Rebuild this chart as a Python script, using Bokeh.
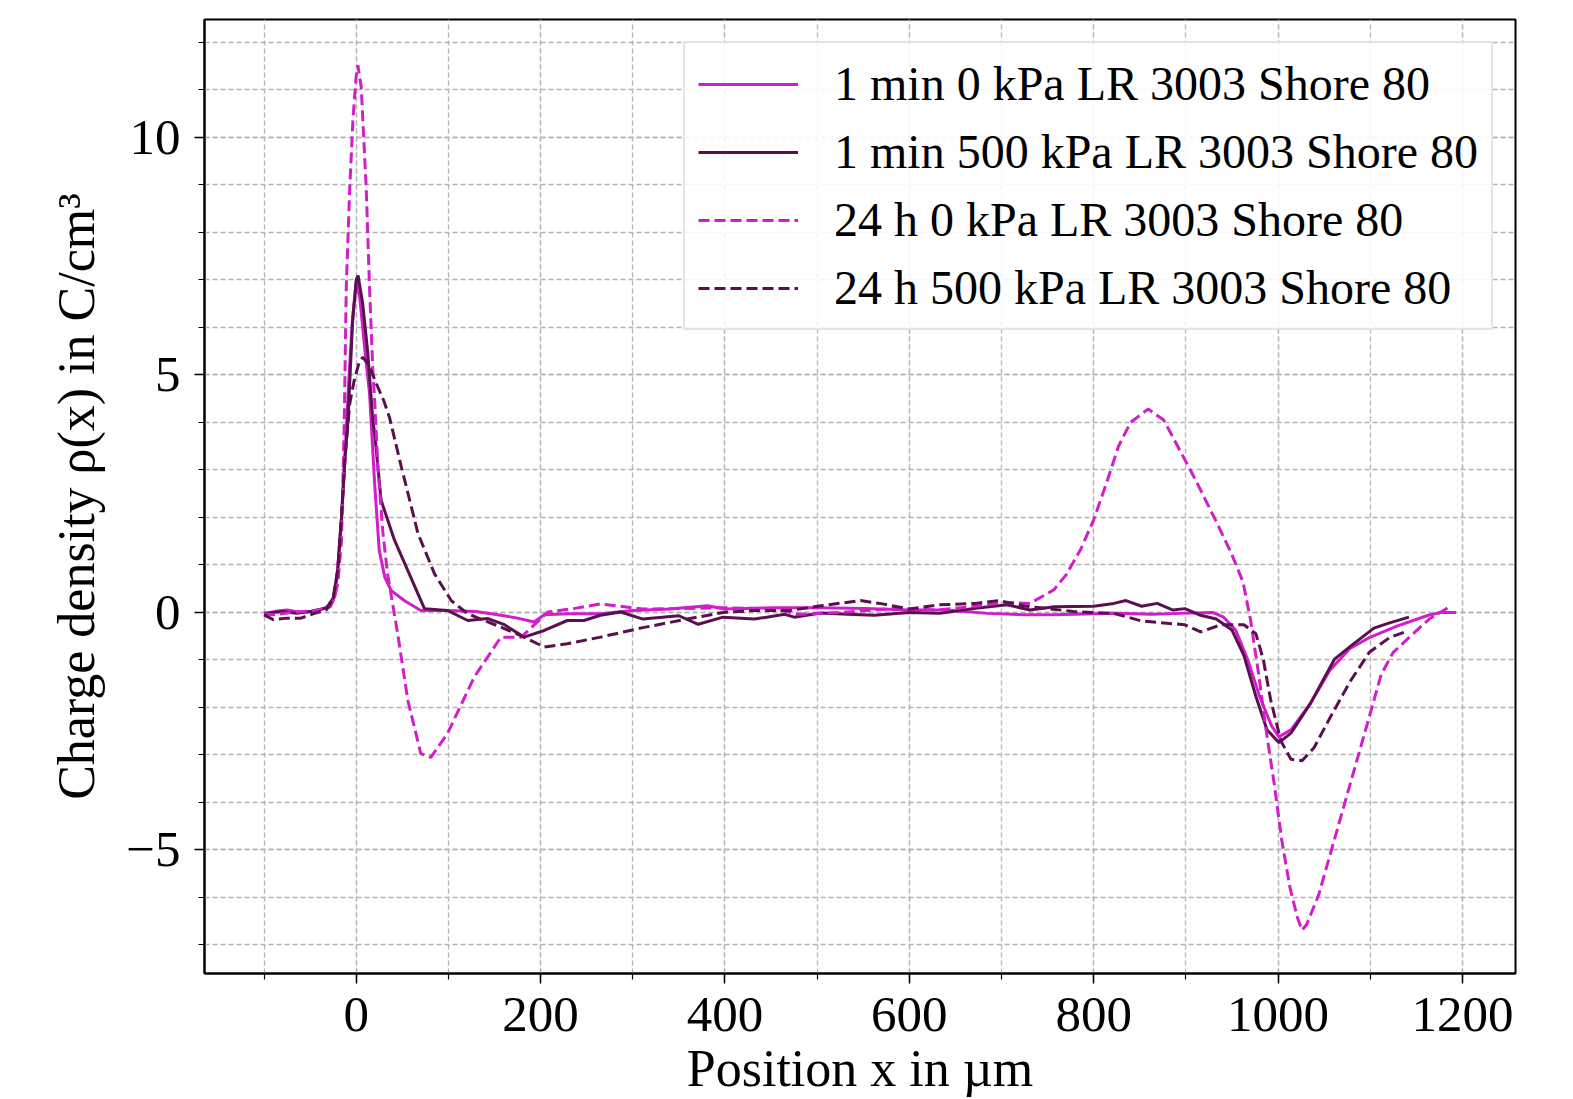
from bokeh.plotting import figure
from bokeh.models import Range1d, FixedTicker
from bokeh.embed import file_html
from bokeh.resources import INLINE

# ---- data ----
labels = ["1 min 0 kPa LR 3003 Shore 80", "1 min 500 kPa LR 3003 Shore 80",
          "24 h 0 kPa LR 3003 Shore 80", "24 h 500 kPa LR 3003 Shore 80"]

x_1min_0 = [-100, -85, -75, -60, -45, -35, -28, -23, -20, -16, -12, -8, -4, 0, 4, 9, 14.5, 20, 25, 31, 38, 52,
            70, 100, 130, 157, 175, 193, 204, 230, 265, 300, 340, 381, 400, 456, 500, 552, 600, 640, 685,
            724, 757, 822, 864, 894, 929, 941, 954, 967, 980, 993, 1001, 1014, 1035, 1056, 1078, 1099,
            1129, 1163, 1176, 1193]
y_1min_0 = [-0.02, 0.03, 0.05, 0.0, 0.03, 0.08, 0.15, 0.35, 0.95, 2.0, 3.4, 4.9, 6.2, 6.95, 6.6, 5.6, 4.6, 2.7,
            1.3, 0.74, 0.46, 0.25, 0.04, 0.04, 0.02, -0.06, -0.12, -0.2, -0.05, -0.03, -0.03, 0.04, 0.07,
            0.14, 0.07, 0.1, 0.1, 0.08, 0.05, 0.05, -0.02, -0.05, -0.05, -0.02, -0.04, -0.02, 0.0, -0.1,
            -0.37, -0.99, -1.77, -2.39, -2.62, -2.47, -1.92, -1.22, -0.76, -0.53, -0.29, -0.06, 0.0, 0.0]

x_1min_500 = [-100, -80, -65, -45, -32, -25, -20, -16, -12, -9, -4, 0, 2, 7, 12.6, 18, 20, 27, 41.5, 56, 74,
              99, 121, 143, 160, 182, 204, 229, 247, 265, 287, 311, 350, 371, 398, 432, 465, 475, 504, 533,
              562, 600, 633, 672, 706, 731, 757, 800, 822, 835, 852, 869, 886, 899, 916, 933, 950, 963,
              976, 988, 1001, 1014, 1035, 1061, 1078, 1104, 1121, 1142]
y_1min_500 = [-0.02, 0.02, -0.02, 0.03, 0.1, 0.3, 0.9, 2.0, 3.3, 4.04, 6.1, 7.0, 7.09, 6.5, 5.45, 4.04, 3.77,
              2.36, 1.52, 0.88, 0.08, 0.04, -0.17, -0.13, -0.25, -0.52, -0.38, -0.17, -0.17, -0.06, 0.01,
              -0.14, -0.07, -0.25, -0.1, -0.14, -0.04, -0.1, -0.01, -0.04, -0.06, 0.0, -0.02, 0.09, 0.16,
              0.05, 0.12, 0.13, 0.19, 0.25, 0.13, 0.19, 0.05, 0.08, -0.06, -0.14, -0.37, -0.91, -1.77,
              -2.47, -2.74, -2.54, -1.92, -0.99, -0.72, -0.33, -0.22, -0.1]

x_24h_0 = [-100, -90, -70, -50, -35, -28, -24, -20, -16, -13, -10.8, -7, -3.6, 0, 1.8, 5.4, 7.2, 10.8, 14.4,
           18, 20, 23.5, 29, 34, 45, 56, 70, 81, 99, 128, 157, 179, 208, 236, 265, 311, 350, 398, 456,
           480, 528, 586, 629, 672, 702, 731, 757, 770, 786, 800, 814, 827, 840, 859, 876, 893, 910, 932,
           949, 962, 970, 979, 987, 996, 1004, 1013, 1021, 1026, 1031, 1044, 1061, 1078, 1095, 1112, 1125,
           1142, 1164, 1186]
y_24h_0 = [-0.03, -0.05, 0.0, 0.03, 0.08, 0.12, 0.3, 0.6, 1.5, 4.0, 6.85, 8.95, 10.36, 11.3, 11.52, 11.06,
           10.36, 8.95, 6.85, 5.1, 4.46, 3.06, 1.66, 0.81, -0.45, -1.85, -2.97, -3.05, -2.55, -1.36, -0.52,
           -0.52, 0.01, 0.08, 0.18, 0.07, 0.08, 0.1, 0.07, -0.04, 0.0, 0.09, 0.05, 0.13, 0.21, 0.19, 0.48,
           0.79, 1.33, 1.95, 2.73, 3.5, 4.0, 4.28, 4.05, 3.43, 2.81, 1.95, 1.26, 0.64, -0.14, -1.3, -2.47,
           -3.63, -4.79, -5.8, -6.42, -6.69, -6.57, -5.95, -4.79, -3.63, -2.47, -1.3, -0.84, -0.53, -0.14,
           0.12]

x_24h_500 = [-100, -90, -75, -60, -45, -32, -25, -20, -16, -12, -7, -2, 3, 7, 12.6, 18, 23.5, 30, 36, 49, 67,
             85, 103, 121, 157, 182, 204, 229, 265, 311, 359, 398, 432, 470, 504, 547, 571, 600, 633, 672,
             697, 727, 778, 822, 852, 899, 916, 938, 963, 976, 984, 992, 1003, 1014, 1026, 1039, 1056, 1078,
             1099, 1121, 1138]
y_24h_500 = [-0.05, -0.15, -0.12, -0.12, -0.02, 0.06, 0.3, 0.9, 2.0, 3.3, 4.4, 4.9, 5.25, 5.37, 5.24, 5.0,
             4.74, 4.45, 4.11, 3.06, 1.66, 0.81, 0.25, -0.03, -0.31, -0.52, -0.73, -0.66, -0.52, -0.32,
             -0.14, 0.0, 0.04, 0.04, 0.14, 0.25, 0.18, 0.07, 0.16, 0.19, 0.25, 0.13, 0.02, -0.02, -0.18,
             -0.26, -0.41, -0.26, -0.26, -0.45, -0.99, -1.84, -2.7, -3.09, -3.12, -2.85, -2.23, -1.46,
             -0.84, -0.53, -0.41]

x_major = [0, 200, 400, 600, 800, 1000, 1200]
x_minor = [-100, 0, 100, 200, 300, 400, 500, 600, 700, 800, 900, 1000, 1100, 1200]
y_major = [-5, 0, 5, 10]
y_minor = list(range(-7, 13))

MAG = "#d21dca"
DARK = "#5a104e"
FONT = "Liberation Serif"
GRID = "#b4b4b4"

p = figure(frame_width=1311, frame_height=954,
           min_border_left=204, min_border_right=30, min_border_top=19, min_border_bottom=110,
           x_range=Range1d(-164.6, 1257.6), y_range=Range1d(-7.6, 12.48),
           output_backend="svg", toolbar_location=None)

LW = 3.0
p.line(x_1min_0, y_1min_0, color=MAG, line_width=LW, legend_label=labels[0])
p.line(x_1min_500, y_1min_500, color=DARK, line_width=LW, legend_label=labels[1])
p.line(x_24h_0, y_24h_0, color=MAG, line_width=LW, line_dash="11 5", legend_label=labels[2])
p.line(x_24h_500, y_24h_500, color=DARK, line_width=LW, line_dash="11 5", legend_label=labels[3])

p.xaxis.ticker = FixedTicker(ticks=x_major, minor_ticks=x_minor)
p.yaxis.ticker = FixedTicker(ticks=y_major, minor_ticks=y_minor)
p.yaxis.major_label_overrides = {-5: "\u22125"}

for ax in (p.xaxis, p.yaxis):
    ax.major_label_text_font = FONT
    ax.major_label_text_font_size = "51px"
    ax.axis_label_text_font = FONT
    ax.axis_label_text_font_size = "52px"
    ax.axis_label_text_font_style = "normal"
    ax.axis_line_width = 2
    ax.axis_line_color = "black"
    ax.major_tick_line_width = 1.5
    ax.minor_tick_line_width = 1.2
    ax.major_tick_out = 10
    ax.major_tick_in = 0
    ax.minor_tick_out = 6
    ax.minor_tick_in = 0
    ax.major_label_text_color = "black"
    ax.axis_label_text_color = "black"

p.xaxis.axis_label = "Position x in \u00b5m"
p.yaxis.axis_label = "Charge density \u03c1(x) in C/cm\u00b3"
p.xaxis.major_label_standoff = 14
p.xaxis.axis_label_standoff = 6
p.yaxis.major_label_standoff = 14
p.yaxis.axis_label_standoff = 18

for g in (p.xgrid, p.ygrid):
    g.grid_line_color = GRID
    g.grid_line_dash = "5 3"
    g.grid_line_width = 1.3
    g.minor_grid_line_color = GRID
    g.minor_grid_line_dash = "5 3"
    g.minor_grid_line_width = 1.3

p.outline_line_color = "black"
p.outline_line_width = 2
p.outline_line_alpha = 1

lg = p.legend[0]
lg.location = "top_right"
lg.margin = 22
lg.padding = 13
lg.spacing = 13
lg.label_text_font = FONT
lg.label_text_font_size = "48px"
lg.label_text_color = "black"
lg.label_height = 48
lg.glyph_height = 48
lg.glyph_width = 100
lg.label_standoff = 36
lg.border_line_color = "#cccccc"
lg.border_line_width = 2
lg.background_fill_alpha = 0.85

open("out.html", "w").write(file_html(p, INLINE))
